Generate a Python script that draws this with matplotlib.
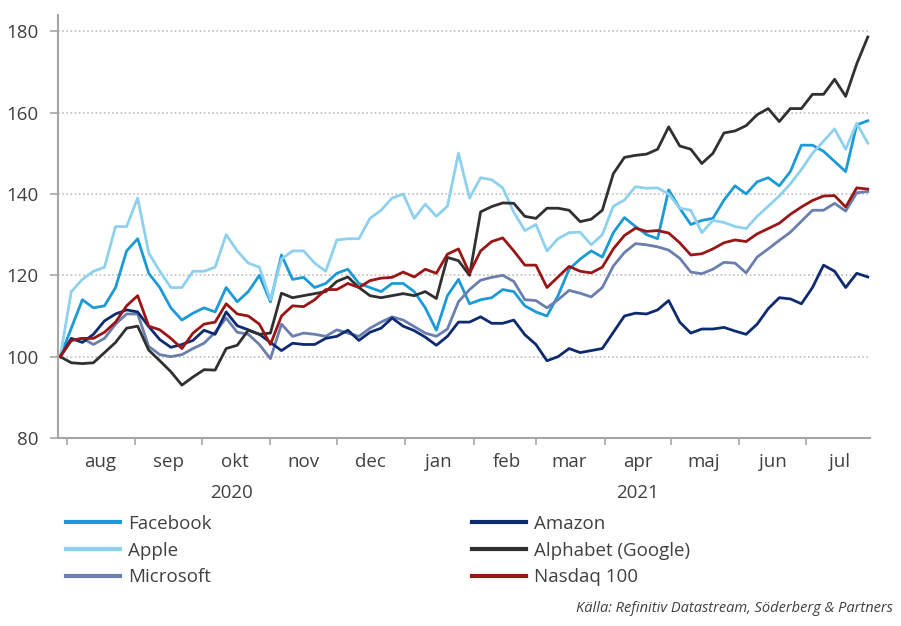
import numpy as np
import pandas as pd
import matplotlib
matplotlib.use('Agg')
import matplotlib.pyplot as plt
import matplotlib.dates as mdates
from matplotlib.ticker import FixedLocator, FixedFormatter, NullFormatter

plt.rcParams['font.family'] = ['Open Sans', 'DejaVu Sans']

# ---------------------------
# Data (index, start = 100), sampled every 5 days
# ---------------------------
dates = pd.date_range('2020-07-29', periods=74, freq='5D')

facebook = [100, 107, 114, 112, 112.5, 117, 126, 129, 120.5, 117,
            112, 109, 110.7, 112, 111, 117, 113.5, 116, 120, 113.5,
            125, 119, 119.5, 117, 118, 120.5, 121.5, 118, 117, 116,
            118, 118, 116, 112, 106.5, 115, 119, 113, 114, 114.5,
            116.5, 116, 112.5, 111, 110, 115, 121.5, 124, 126, 124.5,
            130.5, 134.2, 132, 130, 129, 141, 136.5, 132.5, 133.5, 134,
            138.5, 142, 140, 143, 144, 142, 145.5, 152, 152, 150.5,
            148, 145.5, 157, 158]

apple = [100, 116, 119, 121, 122, 132, 132, 139, 125.5, 121,
         117, 117, 121, 121, 122, 130, 126, 123, 122, 114,
         124, 126, 126, 123, 121, 128.7, 129, 129, 134, 136,
         139, 140, 134, 137.5, 134.5, 137, 150, 139, 144, 143.5,
         141.5, 135.5, 131, 132.5, 126, 129, 130.5, 130.6, 127.5, 130,
         137, 138.5, 141.8, 141.4, 141.5, 140, 136.5, 136, 130.5, 133.5,
         133, 132, 131.5, 134.5, 137, 139.5, 142.5, 146, 150, 153,
         156, 151, 157.4, 152.5]

microsoft = [100, 104, 104.5, 103, 104.5, 108, 110.5, 110.5, 102.5, 100.5,
             100, 100.5, 102, 103.3, 106, 109.5, 106, 105.5, 103, 99.5,
             108, 105, 105.8, 105.5, 105, 106.6, 105.8, 105, 107, 108.5,
             109.8, 109, 107.4, 105.8, 105, 106.8, 113.5, 116.5, 118.8, 119.5,
             120, 118.5, 114, 113.8, 112, 114, 116.3, 115.6, 114.7, 117,
             122.3, 125.6, 127.8, 127.5, 127, 126.2, 124.2, 120.8, 120.4, 121.5,
             123.2, 123, 120.6, 124.5, 126.5, 128.6, 130.6, 133.3, 136, 136,
             137.7, 135.8, 140.3, 140.6]

amazon = [100, 104.5, 103.5, 105.5, 108.8, 110.5, 111.5, 111, 107.4, 104.2,
          102.3, 103, 104, 106.5, 105.5, 111, 107.6, 106.6, 105.5, 103.5,
          101.5, 103.3, 103, 103, 104.5, 105, 106.5, 104, 106, 107,
          109.5, 107.5, 106.4, 104.8, 102.8, 105, 108.5, 108.5, 109.8, 108.2,
          108.2, 109, 105.4, 103, 99, 100, 102, 101, 101.5, 102,
          106, 110, 110.7, 110.5, 111.5, 113.8, 108.5, 105.8, 106.8, 106.8,
          107.2, 106.3, 105.5, 108, 111.8, 114.5, 114.2, 113, 117, 122.5,
          121, 117, 120.5, 119.6]

alphabet = [100, 98.5, 98.3, 98.5, 101, 103.5, 107, 107.5, 101.6, 99,
            96.3, 93, 95, 96.8, 96.7, 102, 102.8, 106.5, 105.5, 105.8,
            115.6, 114.5, 115, 115.5, 116, 118.5, 119.6, 117, 115, 114.5,
            115, 115.5, 115, 116, 114.3, 124.4, 123.6, 120, 135.6, 136.9,
            137.8, 137.7, 134.5, 134, 136.5, 136.5, 136, 133.2, 133.8, 136,
            145, 149, 149.5, 149.8, 151, 156.5, 151.8, 151, 147.5, 150,
            155, 155.5, 156.8, 159.5, 161, 157.8, 161, 161, 164.5, 164.5,
            168.2, 164, 172, 178.6]

nasdaq = [100, 104, 104.5, 104.5, 106, 108.5, 112.5, 115, 107.5, 106.6,
          104.5, 102, 105.8, 108, 108.5, 113, 110.5, 110, 108, 103,
          110, 112.5, 112.3, 114, 116.5, 116.5, 118, 117, 118.7, 119.3,
          119.5, 120.8, 119.6, 121.5, 120.5, 125.2, 126.5, 120.5, 126, 128.3,
          129.2, 126, 122.5, 122.5, 117, 119.6, 122.2, 121, 120.6, 122,
          126.5, 129.8, 131.6, 130.8, 131, 130.4, 128, 125, 125.3, 126.5,
          128, 128.7, 128.3, 130.2, 131.5, 132.8, 135, 136.8, 138.4, 139.5,
          139.6, 136.8, 141.5, 141.2]

names = ['Facebook', 'Apple', 'Microsoft', 'Amazon', 'Alphabet (Google)', 'Nasdaq 100']
colors = ['#1b9ad7', '#8ed1ef', '#6a7fae', '#0e2a70', '#303030', '#9a1515']
values = [facebook, apple, microsoft, amazon, alphabet, nasdaq]

month_labels = ['aug', 'sep', 'okt', 'nov', 'dec', 'jan',
                'feb', 'mar', 'apr', 'maj', 'jun', 'jul']
year_labels = ['2020', '2021']

# ---------------------------
# Plot
# ---------------------------
text_col = '#404040'
axis_col = '#a6a6a6'

fig = plt.figure(figsize=(9.01, 6.26), dpi=100)
ax = fig.add_axes([0.0644, 0.3003, 0.9012, 0.6757])

for name, vals, col in zip(names, values, colors):
    ax.plot(dates, vals, color=col, lw=2.0, label=name, solid_joinstyle='round')

x_left = pd.Timestamp('2020-07-28')
x_right = pd.Timestamp('2021-07-30')
ax.set_xlim(x_left, x_right)
ax.set_ylim(80, 184)

# y axis + dotted grid
ax.set_yticks(range(80, 181, 20))
for y in range(100, 181, 20):
    ax.axhline(y, color='#bfbfbf', lw=1.2, ls=(0, (1, 1.5)), zorder=0)
ax.tick_params(axis='y', length=6, width=1.2, color=axis_col, pad=8,
               labelsize=13.5, labelcolor=text_col)

# x axis: ticks at month starts, labels in the middle of each month
month_starts = pd.date_range('2020-08-01', '2021-07-01', freq='MS')
month_mids = month_starts + pd.Timedelta(days=15)
ax.xaxis.set_major_locator(FixedLocator(mdates.date2num(month_starts)))
ax.xaxis.set_major_formatter(NullFormatter())
ax.xaxis.set_minor_locator(FixedLocator(mdates.date2num(month_mids)))
ax.xaxis.set_minor_formatter(FixedFormatter(month_labels))
ax.tick_params(axis='x', which='major', length=5, width=1.2, color=axis_col)
ax.tick_params(axis='x', which='minor', length=0, pad=10.5,
               labelsize=13.5, labelcolor=text_col)

new_year = pd.Timestamp('2021-01-01')
year_pos = [x_left + (new_year - x_left) / 2, new_year + (x_right - new_year) / 2]
for lab, xp in zip(year_labels, year_pos):
    ax.text(xp, -0.13, lab, transform=ax.get_xaxis_transform(),
            ha='center', va='center', fontsize=13.5, color=text_col)

for side in ['top', 'right']:
    ax.spines[side].set_visible(False)
for side in ['left', 'bottom']:
    ax.spines[side].set_color(axis_col)
    ax.spines[side].set_linewidth(1.5)

# legend below the chart
leg = fig.legend(loc='upper left', bbox_to_anchor=(66 / 901, 1 - 515 / 626),
                 ncol=2, frameon=False, fontsize=13.5, handlelength=2.9,
                 handletextpad=0.4, columnspacing=13.9, labelspacing=0.46,
                 borderpad=0, borderaxespad=0)
for line in leg.get_lines():
    line.set_linewidth(3.0)
for t in leg.get_texts():
    t.set_color(text_col)

fig.text(893 / 901, 1 - 608 / 626, 'Källa: Refinitiv Datastream, Söderberg & Partners',
         ha='right', va='center', style='italic', fontsize=10.5, color=text_col)

fig.savefig('out.png', dpi=100)
